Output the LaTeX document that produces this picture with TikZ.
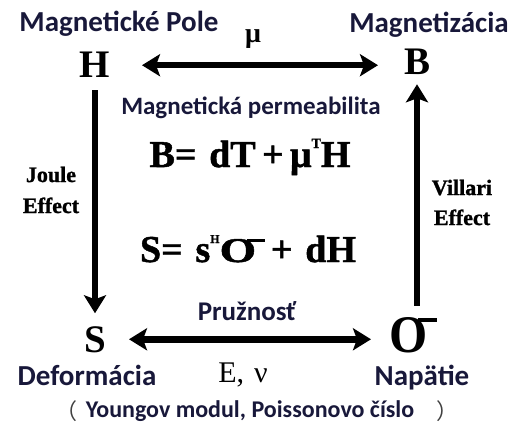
\documentclass[tikz,border=0pt]{standalone}
\usepackage{fontspec}
\setmainfont{Liberation Serif}
\newfontfamily\lblfont{Carlito}
\newfontfamily\heavy[FakeBold=1.2]{Liberation Serif}
\newfontfamily\cjkfont{Noto Sans CJK SC}
\usetikzlibrary{arrows.meta}
\definecolor{navy}{RGB}{24,24,58}
\newcommand{\mysig}{\mbox{O\kern-0.2em\rule[0.57em]{0.38em}{0.08em}}}
\tikzset{
  sym/.style={font=\fontsize{39}{39}\selectfont\bfseries, inner sep=0pt, anchor=base},
  lbl/.style={font=\lblfont\fontsize{29}{29}\selectfont\bfseries, text=navy, inner sep=0pt, anchor=base},
  lblsmall/.style={font=\lblfont\fontsize{24}{24}\selectfont\bfseries, text=navy, inner sep=0pt, anchor=base},
  eq/.style={font=\heavy\fontsize{38}{38}\selectfont\bfseries, inner sep=0pt, anchor=base},
  effect/.style={font=\heavy\fontsize{22}{22}\selectfont\bfseries, inner sep=0pt, anchor=base},
  paren/.style={font=\cjkfont\fontsize{22}{22}\selectfont, text=black!75, inner sep=0pt, anchor=base},
  bigarrow/.style={line width=6.5pt, -{Stealth[length=18pt,width=22pt,inset=4pt]}},
  bigdbl/.style={line width=6.5pt, {Stealth[length=18pt,width=22pt,inset=4pt]}-{Stealth[length=18pt,width=22pt,inset=4pt]}},
}
\begin{document}
\begin{tikzpicture}[x=1pt,y=-1pt]
\useasboundingbox (0,0) rectangle (511,425);
% corner symbols
\node[sym] (H) at (95,78) {H};
\node[sym] (B) at (417,75) {B};
\node[sym] (S) at (95,352) {S};
\node[sym] (sig) at (413,352) {\resizebox{47pt}{35pt}{\mysig}};
% labels
\node[lbl] (lMP) at (119,32) {Magnetické Pole};
\node[lbl] (lMZ) at (429,33) {Magnetizácia};
\node[font=\fontsize{28}{28}\selectfont\bfseries, inner sep=0pt] (mu) at (253,39) {μ};
\node[lblsmall, font=\lblfont\fontsize{25}{25}\selectfont\bfseries] (lperm) at (251,115) {Magnetická permeabilita};
\node[eq] (eq1) at (250,167) {B=\,\,dT\,+\,μ\raisebox{0.5em}{\fontsize{14}{14}\selectfont T}H};
\node[eq] (eq2) at (248,262) {S=\,\,s\raisebox{0.5em}{\fontsize{12}{12}\selectfont H}\resizebox{45pt}{23pt}{\mysig}\,+\,\,dH};
\node[effect] (joule1) at (51,182) {Joule};
\node[effect] (joule2) at (51,213) {Effect};
\node[effect] (vill1) at (462,195) {Villari};
\node[effect] (vill2) at (462,225) {Effect};
\node[lblsmall, font=\lblfont\fontsize{27}{27}\selectfont\bfseries] (lpruz) at (247,320) {Pružnosť};
\node[lbl] (ldef) at (87,385) {Deformácia};
\node[lbl] (lnap) at (422,385) {Napätie};
\node[font=\fontsize{30}{30}\selectfont, inner sep=0pt, anchor=base] (Enu) at (243,382) {E,\,\,ν};
\node[lblsmall] (lyoung) at (250,417) {Youngov modul, Poissonovo číslo};
\node[paren] (lpar) at (66,419) {（};
\node[paren] (rpar) at (447,419) {）};
% arrows
\draw[bigdbl, shorten <=47pt, shorten >=39pt] (H.center) -- (H.center -| B.center);
\draw[bigdbl, shorten <=34pt, shorten >=42pt] (S.center) -- (S.center -| sig.center);
\draw[bigarrow, shorten <=25pt, shorten >=26pt] (H.center) -- (S.center);
\draw[bigarrow, shorten <=29pt, shorten >=22pt] (sig.center -| B.center) -- (B.center);
\end{tikzpicture}
\end{document}
